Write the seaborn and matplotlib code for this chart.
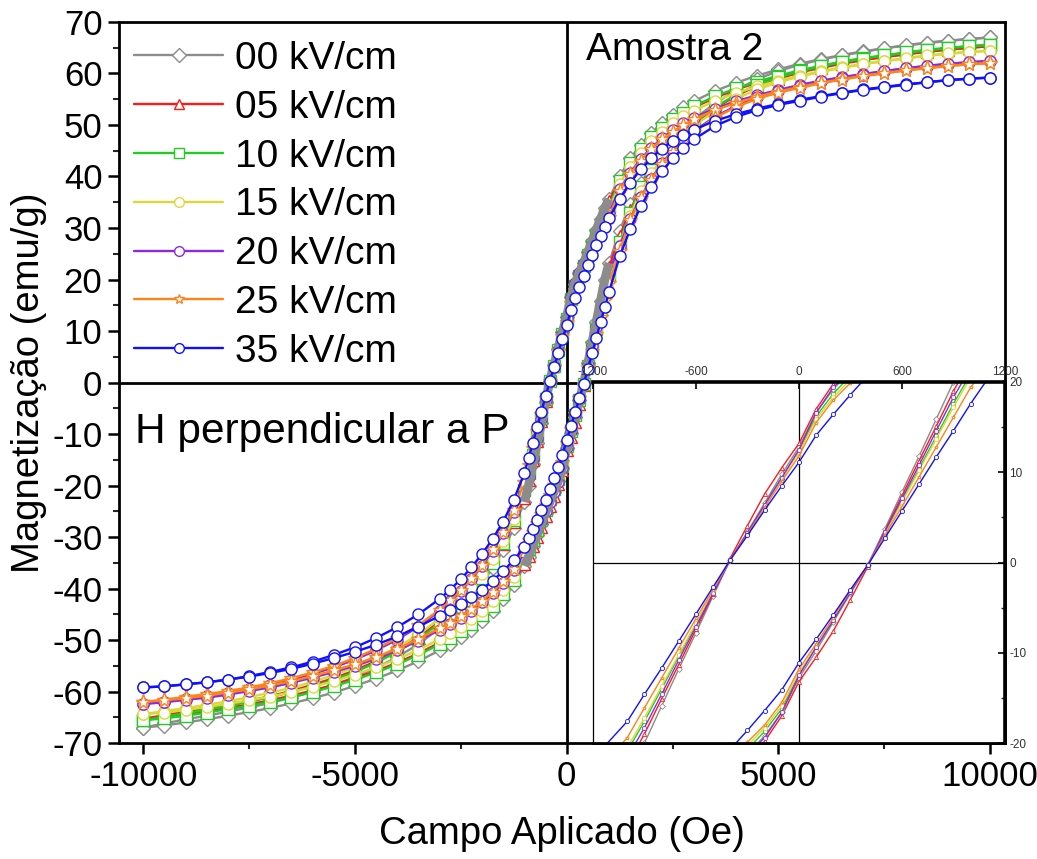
import numpy as np
import pandas as pd
import matplotlib
matplotlib.use("Agg")
import matplotlib.pyplot as plt
import seaborn as sns
from matplotlib.ticker import MultipleLocator

# Applied field (Oe): descending sweep; the ascending sweep runs through the same fields backwards
field_down = [10000, 9500, 9000, 8500, 8000, 7500, 7000, 6500, 6000, 5500, 5000,
              4500, 4000, 3500, 3000, 2750, 2500, 2250, 2000, 1750, 1500, 1250,
              1000, 900, 800, 700, 600, 500, 400, 300, 200, 100, 0,
              -100, -200, -300, -400, -500, -600, -700, -800, -900, -1000,
              -1250, -1500, -1750, -2000, -2250, -2500, -2750, -3000,
              -3500, -4000, -4500, -5000, -5500, -6000, -6500, -7000, -7500,
              -8000, -8500, -9000, -9500, -10000]
field_up = field_down[::-1]

# Magnetization (emu/g), descending and ascending sweeps, for each poling field
m00_down = [67.0, 66.7, 66.3, 65.9, 65.4, 64.9, 64.3, 63.6, 62.8, 61.9, 60.8, 59.6, 58.2, 56.6, 54.6, 53.4, 52.0, 50.4, 48.5, 46.2, 43.5, 40.0,
            35.6, 33.8, 31.8, 29.7, 27.5, 25.3, 23.2, 21.2, 19.2, 16.6, 12.8, 9.8, 6.6, 3.4, 0.3, -3.7, -7.8, -11.8, -15.9, -20.0, -23.2,
            -28.3, -32.5, -36.0, -39.0, -41.6, -43.9, -45.9, -47.7, -50.8, -53.3, -55.4, -57.2, -58.7, -60.0, -61.2, -62.2, -63.1, -63.9, -64.7, -65.4, -66.2, -67.0]
m00_up = [-67.0, -66.6, -66.0, -65.4, -64.7, -64.0, -63.2, -62.3, -61.3, -60.2, -58.9, -57.5, -55.9, -54.1, -52.0, -50.8, -49.5, -48.0, -46.3, -44.4, -42.1, -39.3,
          -35.6, -33.8, -31.8, -29.7, -27.5, -25.3, -23.2, -21.2, -19.2, -16.6, -12.8, -9.8, -6.6, -3.4, -0.3, 3.7, 7.8, 11.8, 15.9, 20.0, 23.2,
          29.5, 34.6, 38.7, 42.0, 44.8, 47.2, 49.3, 51.1, 54.2, 56.8, 58.9, 60.5, 61.7, 62.7, 63.5, 64.2, 64.9, 65.5, 66.0, 66.4, 66.7, 67.0]

m05_down = [65.3, 65.0, 64.6, 64.2, 63.7, 63.2, 62.7, 62.0, 61.2, 60.4, 59.3, 58.2, 56.9, 55.3, 53.4, 52.2, 50.9, 49.3, 47.4, 45.1, 42.5, 39.1,
            35.3, 33.6, 31.8, 29.9, 28.0, 26.0, 24.0, 22.0, 19.8, 17.0, 13.2, 10.5, 7.6, 4.1, 0.5, -3.5, -7.4, -11.3, -15.1, -19.0, -22.4,
            -27.1, -31.3, -34.8, -37.7, -40.3, -42.6, -44.6, -46.4, -49.5, -52.0, -54.1, -55.9, -57.4, -58.7, -59.9, -60.9, -61.8, -62.5, -63.3, -63.9, -64.6, -65.3]
m05_up = [-65.3, -64.9, -64.4, -63.8, -63.2, -62.5, -61.7, -60.8, -59.8, -58.7, -57.4, -56.0, -54.4, -52.6, -50.5, -49.3, -48.1, -46.6, -45.0, -43.1, -40.9, -38.2,
          -35.3, -33.6, -31.8, -29.9, -28.0, -26.0, -24.0, -22.0, -19.8, -17.0, -13.2, -10.5, -7.6, -4.1, -0.5, 3.5, 7.4, 11.3, 15.1, 19.0, 22.4,
          28.4, 33.5, 37.7, 41.1, 44.0, 46.4, 48.5, 50.2, 53.2, 55.7, 57.6, 59.0, 60.2, 61.1, 61.9, 62.6, 63.2, 63.8, 64.3, 64.7, 65.0, 65.3]

m10_down = [65.6, 65.3, 64.9, 64.5, 64.0, 63.5, 63.0, 62.3, 61.5, 60.6, 59.6, 58.4, 57.1, 55.6, 53.6, 52.4, 51.1, 49.5, 47.6, 45.3, 42.7, 39.2,
            34.1, 32.4, 30.6, 28.7, 26.7, 24.7, 22.7, 20.7, 18.7, 16.2, 12.4, 9.4, 6.4, 3.3, 0.3, -3.2, -6.8, -10.4, -14.0, -17.6, -20.9,
            -26.6, -31.2, -35.0, -38.0, -40.6, -42.9, -44.9, -46.7, -49.8, -52.3, -54.4, -56.2, -57.7, -59.0, -60.1, -61.1, -62.0, -62.8, -63.5, -64.2, -64.9, -65.6]
m10_up = [-65.6, -65.2, -64.7, -64.1, -63.4, -62.8, -62.0, -61.1, -60.1, -59.0, -57.7, -56.3, -54.7, -52.9, -50.8, -49.6, -48.3, -46.9, -45.2, -43.3, -41.1, -38.4,
          -34.1, -32.4, -30.6, -28.7, -26.7, -24.7, -22.7, -20.7, -18.7, -16.2, -12.4, -9.4, -6.4, -3.3, -0.3, 3.2, 6.8, 10.4, 14.0, 17.6, 20.9,
          27.3, 33.0, 37.9, 41.3, 44.1, 46.5, 48.6, 50.4, 53.4, 55.9, 57.8, 59.3, 60.4, 61.4, 62.2, 62.9, 63.5, 64.1, 64.6, 65.0, 65.3, 65.6]

m15_down = [64.4, 64.2, 63.8, 63.4, 62.9, 62.4, 61.9, 61.2, 60.4, 59.6, 58.6, 57.5, 56.2, 54.7, 52.8, 51.7, 50.3, 48.7, 46.9, 44.6, 41.9, 38.6,
            33.5, 31.8, 30.0, 28.2, 26.3, 24.3, 22.3, 20.3, 18.3, 15.9, 12.2, 9.3, 6.3, 3.2, 0.3, -3.2, -6.7, -10.2, -13.7, -17.2, -20.5,
            -26.5, -30.7, -34.2, -37.1, -39.7, -42.0, -44.0, -45.8, -48.9, -51.4, -53.5, -55.3, -56.8, -58.1, -59.3, -60.2, -61.1, -61.9, -62.6, -63.2, -63.8, -64.4]
m15_up = [-64.4, -64.1, -63.6, -63.0, -62.4, -61.7, -61.0, -60.1, -59.1, -58.0, -56.7, -55.3, -53.7, -51.9, -49.8, -48.6, -47.4, -45.9, -44.3, -42.5, -40.3, -37.7,
          -33.5, -31.8, -30.0, -28.2, -26.3, -24.3, -22.3, -20.3, -18.3, -15.9, -12.2, -9.3, -6.3, -3.2, -0.3, 3.2, 6.7, 10.2, 13.7, 17.2, 20.5,
          26.7, 32.4, 37.2, 40.6, 43.5, 46.0, 48.0, 49.8, 52.7, 55.1, 56.9, 58.3, 59.4, 60.3, 61.1, 61.8, 62.4, 63.0, 63.5, 63.9, 64.2, 64.4]

m20_down = [62.4, 62.2, 61.8, 61.4, 61.0, 60.5, 59.9, 59.3, 58.6, 57.8, 56.8, 55.8, 54.6, 53.2, 51.4, 50.3, 49.0, 47.4, 45.6, 43.4, 40.7, 37.5,
            33.0, 31.6, 30.1, 28.5, 26.8, 25.0, 23.2, 21.3, 19.4, 16.6, 12.5, 9.4, 6.4, 3.3, 0.3, -3.4, -7.1, -10.8, -14.6, -18.3, -21.6,
            -25.1, -29.3, -32.7, -35.6, -38.2, -40.5, -42.5, -44.3, -47.4, -49.9, -52.0, -53.8, -55.3, -56.6, -57.7, -58.7, -59.5, -60.2, -60.9, -61.4, -62.0, -62.4]
m20_up = [-62.4, -62.1, -61.6, -61.2, -60.6, -59.9, -59.2, -58.3, -57.3, -56.2, -55.0, -53.6, -52.0, -50.1, -48.0, -46.9, -45.7, -44.3, -42.7, -40.9, -38.9, -36.5,
          -33.0, -31.6, -30.1, -28.5, -26.8, -25.0, -23.2, -21.3, -19.4, -16.6, -12.5, -9.4, -6.4, -3.3, -0.3, 3.4, 7.1, 10.8, 14.6, 18.3, 21.6,
          26.5, 31.8, 36.0, 39.6, 42.6, 45.0, 47.1, 48.8, 51.6, 53.7, 55.4, 56.6, 57.6, 58.5, 59.2, 59.8, 60.4, 61.0, 61.5, 61.9, 62.2, 62.4]

m25_down = [62.0, 61.8, 61.4, 61.0, 60.6, 60.1, 59.6, 58.9, 58.2, 57.4, 56.5, 55.5, 54.3, 52.9, 51.1, 50.0, 48.7, 47.2, 45.4, 43.1, 40.5, 37.2,
            32.2, 30.6, 29.0, 27.3, 25.5, 23.7, 21.8, 19.9, 18.0, 15.5, 11.8, 9.0, 6.1, 3.1, 0.3, -3.0, -6.2, -9.5, -12.8, -16.1, -19.4,
            -24.8, -29.0, -32.4, -35.4, -38.0, -40.3, -42.3, -44.1, -47.1, -49.6, -51.7, -53.5, -55.0, -56.3, -57.4, -58.4, -59.2, -59.9, -60.5, -61.0, -61.6, -62.0]
m25_up = [-62.0, -61.7, -61.3, -60.8, -60.2, -59.6, -58.8, -58.0, -57.0, -55.9, -54.7, -53.3, -51.7, -49.8, -47.7, -46.6, -45.3, -44.0, -42.4, -40.6, -38.6, -36.2,
          -32.2, -30.6, -29.0, -27.3, -25.5, -23.7, -21.8, -19.9, -18.0, -15.5, -11.8, -9.0, -6.1, -3.1, -0.3, 3.0, 6.2, 9.5, 12.8, 16.1, 19.4,
          25.6, 31.5, 35.8, 39.4, 42.4, 44.8, 46.9, 48.6, 51.4, 53.5, 55.1, 56.3, 57.2, 58.1, 58.8, 59.5, 60.0, 60.6, 61.1, 61.5, 61.8, 62.0]

m35_down = [59.2, 59.0, 58.7, 58.3, 57.9, 57.4, 56.9, 56.3, 55.6, 54.9, 54.1, 53.2, 52.1, 50.8, 49.1, 48.1, 46.9, 45.4, 43.6, 41.4, 38.8, 35.7,
            31.9, 30.2, 28.5, 26.7, 24.8, 22.8, 20.7, 18.6, 16.4, 14.1, 11.1, 8.5, 5.8, 3.0, 0.3, -2.7, -5.7, -8.7, -11.7, -14.6, -17.6,
            -22.8, -27.0, -30.4, -33.3, -35.9, -38.2, -40.2, -42.0, -45.0, -47.5, -49.6, -51.4, -52.9, -54.2, -55.3, -56.2, -57.0, -57.7, -58.2, -58.6, -59.0, -59.2]
m35_up = [-59.2, -59.0, -58.6, -58.2, -57.7, -57.1, -56.4, -55.6, -54.6, -53.5, -52.3, -50.9, -49.3, -47.4, -45.3, -44.2, -43.0, -41.7, -40.2, -38.5, -36.6, -34.5,
          -31.9, -30.2, -28.5, -26.7, -24.8, -22.8, -20.7, -18.6, -16.4, -14.1, -11.1, -8.5, -5.8, -3.0, -0.3, 2.7, 5.7, 8.7, 11.7, 14.6, 17.6,
          24.5, 29.8, 34.2, 37.9, 41.0, 43.5, 45.5, 47.2, 49.8, 51.6, 52.9, 53.9, 54.7, 55.5, 56.2, 56.8, 57.3, 57.8, 58.3, 58.7, 59.0, 59.2]

labels = ["00 kV/cm", "05 kV/cm", "10 kV/cm", "15 kV/cm",
          "20 kV/cm", "25 kV/cm", "35 kV/cm"]
sweeps = [(m00_down, m00_up), (m05_down, m05_up), (m10_down, m10_up), (m15_down, m15_up),
          (m20_down, m20_up), (m25_down, m25_up), (m35_down, m35_up)]
colors = ["#8c8c8c", "#ff1a1a", "#22cc22", "#dcd83a", "#8a2be2", "#ff8418", "#1010ff"]
markers = ["D", "^", "s", "o", "o", "*", "o"]

# Long table: one closed loop per poling field (descending sweep, then ascending sweep)
frames = []
for lab, (m_dn, m_up) in zip(labels, sweeps):
    frames.append(pd.DataFrame({"H": field_down, "M": m_dn, "campo": lab, "ramo": "desce"}))
    frames.append(pd.DataFrame({"H": field_up, "M": m_up, "campo": lab, "ramo": "sobe"}))
loops = pd.concat(frames, ignore_index=True)

sns.set_theme(style="white")
plt.rcParams["font.family"] = ["Liberation Sans", "DejaVu Sans"]
plt.rcParams["axes.unicode_minus"] = False
plt.rcParams["text.color"] = "black"
plt.rcParams["axes.labelcolor"] = "black"

fig = plt.figure(figsize=(10.37, 8.59), dpi=100)
ax = fig.add_axes([0.1148, 0.1350, 0.8544, 0.8394])

ax.axvline(0, color="black", lw=2.0, zorder=1)
ax.axhline(0, color="black", lw=2.0, zorder=1)

for i, (lab, col, mk) in enumerate(zip(labels, colors, markers)):
    sub = loops[loops["campo"] == lab]
    sns.lineplot(data=sub, x="H", y="M", units="ramo", sort=False, estimator=None,
                 ax=ax, color=col, lw=1.7, marker=mk,
                 markersize=11 if mk == "*" else (7 if mk == "D" else 8),
                 markerfacecolor="white", markeredgecolor=col,
                 markeredgewidth=1.0, zorder=3 if i == len(labels) - 1 else 2)
    ax.plot([], [], color=col, lw=1.7, marker=mk, markersize=7,
            markerfacecolor="white", markeredgecolor=col, label=lab)

# Densely sampled central part of the 00 kV/cm loop shows as a solid grey band
core = loops[(loops["campo"] == labels[0]) & (loops["H"].abs() <= 1000)]
sns.lineplot(data=core, x="H", y="M", units="ramo", sort=False, estimator=None,
             ax=ax, color="#8c8c8c", lw=6.5, legend=False, zorder=2.5,
             solid_capstyle="butt")

ax.set_xlim(-10570, 10350)
ax.set_ylim(-70, 70)
ax.xaxis.set_major_locator(MultipleLocator(5000))
ax.xaxis.set_minor_locator(MultipleLocator(2500))
ax.yaxis.set_major_locator(MultipleLocator(10))
ax.yaxis.set_minor_locator(MultipleLocator(5))
ax.tick_params(axis="both", which="major", direction="out", length=8, width=1.8,
               labelsize=25, pad=4, bottom=True, left=True, colors="black")
ax.tick_params(axis="both", which="minor", direction="out", length=4.5, width=1.5,
               bottom=True, left=True)
for sp in ax.spines.values():
    sp.set_linewidth(2.0)
    sp.set_color("black")
ax.set_xlabel("Campo Aplicado (Oe)", fontsize=27.5, labelpad=17, color="black")
ax.set_ylabel("Magnetização (emu/g)", fontsize=27.5, labelpad=4, color="black")

ax.legend(loc="upper left", bbox_to_anchor=(0.0035, 0.99), frameon=False,
          fontsize=28, handlelength=2.3, handletextpad=0.3, labelspacing=0.33,
          borderpad=0.3, borderaxespad=0.0, labelcolor="black")

ax.text(450, 64.5, "Amostra 2", fontsize=28, ha="left", va="center", color="black")
ax.text(-10200, -9.7, "H perpendicular a P", fontsize=30.5, ha="left", va="center",
        color="black")

# Zoomed view of the central region
ins = fig.add_axes([0.5718, 0.1350, 0.3973, 0.4203])
ins.set_facecolor("white")
ins.axvline(0, color="black", lw=0.9, zorder=1)
ins.axhline(0, color="black", lw=0.9, zorder=1)
for lab, col, mk in zip(labels, colors, markers):
    sub = loops[loops["campo"] == lab]
    sns.lineplot(data=sub, x="H", y="M", units="ramo", sort=False, estimator=None,
                 ax=ins, color=col, lw=1.0, marker=mk, markersize=3,
                 markerfacecolor="white", markeredgecolor=col,
                 markeredgewidth=0.6, legend=False, zorder=2)
ins.set_xlim(-1200, 1200)
ins.set_ylim(-20, 20)
ins.set_xlabel("")
ins.set_ylabel("")
ins.xaxis.tick_top()
ins.yaxis.tick_right()
ins.xaxis.set_major_locator(MultipleLocator(600))
ins.yaxis.set_major_locator(MultipleLocator(10))
ins.yaxis.set_minor_locator(MultipleLocator(5))
ins.tick_params(axis="both", which="major", direction="in", length=5, width=1.2,
                labelsize=8.5, pad=3, colors="black", labelcolor="#333333")
ins.tick_params(axis="y", which="minor", direction="in", length=3, width=1.0)
ins.spines["top"].set_linewidth(2.6)
ins.spines["right"].set_linewidth(2.6)
ins.spines["left"].set_linewidth(0.9)
ins.spines["bottom"].set_linewidth(2.0)
for sp in ins.spines.values():
    sp.set_color("black")

fig.savefig("out.png", dpi=100)
